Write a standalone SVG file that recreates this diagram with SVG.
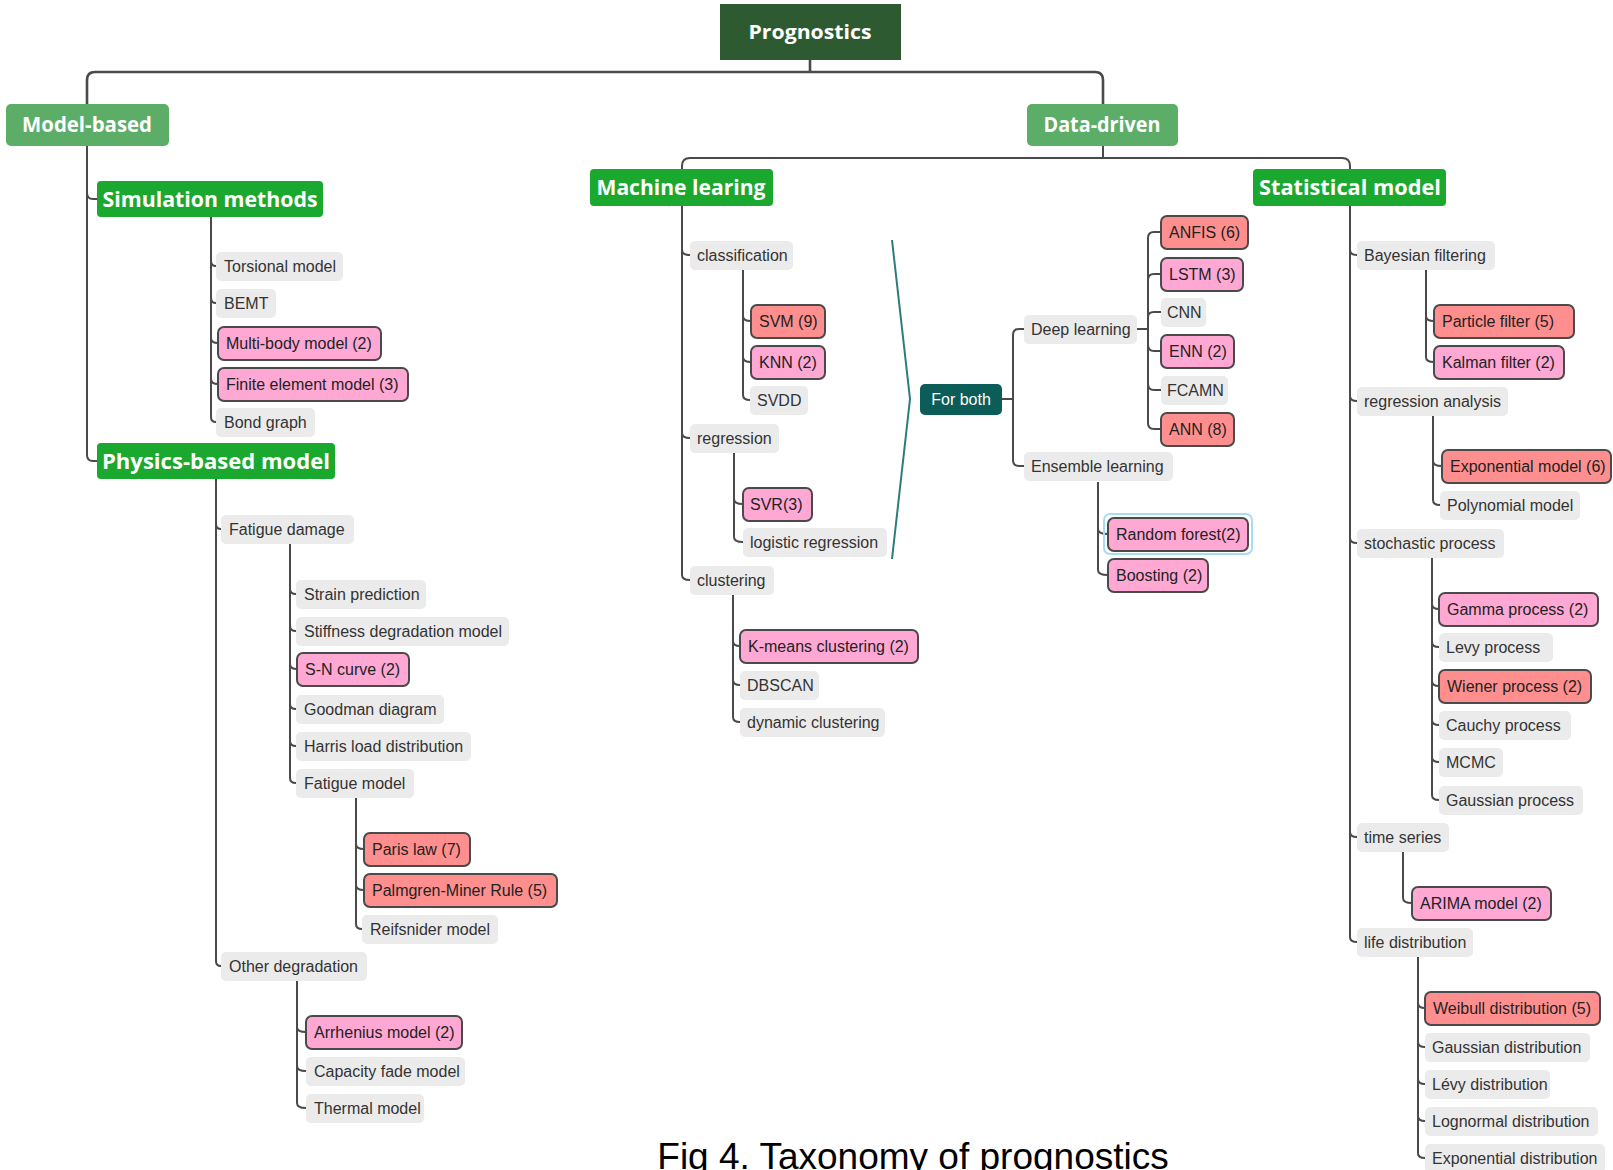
<svg xmlns="http://www.w3.org/2000/svg" width="1613" height="1170" viewBox="0 0 1613 1170">
<style>
.bg{fill:#ffffff}
.gray rect{fill:#ebebeb}
.pink rect{fill:#ffa8d4;stroke:#4a4a4a;stroke-width:2}
.red rect{fill:#ff8f8f;stroke:#4a4a4a;stroke-width:2}
.n text{font-family:"Liberation Sans",Arial,sans-serif;font-size:16px;fill:#333333}
.pink text,.red text{fill:#222222}
.hd text{font-family:"Open Sans","Noto Sans","Liberation Sans",sans-serif;font-weight:700;fill:#ffffff;text-anchor:middle}
.root rect{fill:#2e5a31}
.l1 rect{fill:#5cad67}
.l2 rect{fill:#1ba82e}
.fb rect{fill:#0c5c58}
.fb text{font-family:"Liberation Sans",Arial,sans-serif;font-size:16px;fill:#ffffff;text-anchor:middle}
#connectors path{fill:none;stroke:#4a4a4a;stroke-width:2}
#connectors .thick{stroke-width:2.6}
#connectors .teal{stroke:#2b7d7a;stroke-width:2}
.cap{font-family:"Liberation Sans",Arial,sans-serif;font-size:37px;fill:#000000}
</style>
<rect class="bg" x="0" y="0" width="1613" height="1170"/>

<g id="connectors">
  <path class="thick" d="M810 60 V72"/>
  <path class="thick" d="M87 104 V80 Q87 72 95 72 H1095 Q1103 72 1103 80 V104"/>
  <path d="M1103 146 V158"/>
  <path d="M682 169 V166 Q682 158 690 158 H1342 Q1350 158 1350 166 V169"/>
  <!-- Model-based -->
  <path d="M87 146 V193 Q87 199 93 199 H97"/>
  <path d="M87 146 V455 Q87 461 93 461 H97"/>
  <!-- Simulation methods -->
  <path d="M211 217 V261 Q211 266 216 266"/>
  <path d="M211 217 V298 Q211 303 216 303"/>
  <path d="M211 217 V338 Q211 343 218 343"/>
  <path d="M211 217 V379 Q211 384 218 384"/>
  <path d="M211 217 V417 Q211 422 216 422"/>
  <!-- Physics-based -->
  <path d="M216 479 V524 Q216 529 221 529"/>
  <path d="M216 479 V961 Q216 966 221 966"/>
  <!-- Fatigue damage -->
  <path d="M290 543 V589 Q290 594 296 594"/>
  <path d="M290 543 V626 Q290 631 296 631"/>
  <path d="M290 543 V664 Q290 669 297 669"/>
  <path d="M290 543 V704 Q290 709 296 709"/>
  <path d="M290 543 V741 Q290 746 296 746"/>
  <path d="M290 543 V778 Q290 783 296 783"/>
  <!-- Fatigue model -->
  <path d="M356 798 V844 Q356 849 364 849"/>
  <path d="M356 798 V885 Q356 890 364 890"/>
  <path d="M356 798 V924 Q356 929 362 929"/>
  <!-- Other degradation -->
  <path d="M297 980 V1027 Q297 1032 306 1032"/>
  <path d="M297 980 V1066 Q297 1071 306 1071"/>
  <path d="M297 980 V1103 Q297 1108 306 1108"/>
  <!-- Machine learing -->
  <path d="M682 206 V250 Q682 255 690 255"/>
  <path d="M682 206 V433 Q682 438 690 438"/>
  <path d="M682 206 V575 Q682 580 690 580"/>
  <!-- classification -->
  <path d="M743 270 V316 Q743 321 751 321"/>
  <path d="M743 270 V357 Q743 362 751 362"/>
  <path d="M743 270 V395 Q743 400 750 400"/>
  <!-- regression -->
  <path d="M734 453 V499 Q734 504 743 504"/>
  <path d="M734 453 V537 Q734 542 743 542"/>
  <!-- clustering -->
  <path d="M733 595 V641 Q733 646 740 646"/>
  <path d="M733 595 V680 Q733 685 740 685"/>
  <path d="M733 595 V717 Q733 722 740 722"/>
  <!-- For both bracket -->
  <path class="teal" d="M892 240 L910 399 L892 559"/>
  <!-- For both -->
  <path d="M1002 399 H1013"/>
  <path d="M1013 399 V335 Q1013 329 1019 329 H1024"/>
  <path d="M1013 399 V460 Q1013 466 1019 466 H1024"/>
  <!-- Deep learning -->
  <path d="M1137 329 H1148"/>
  <path d="M1148 329 V238 Q1148 232 1154 232 H1161"/>
  <path d="M1148 329 V280 Q1148 274 1154 274 H1161"/>
  <path d="M1148 329 V317 Q1148 312 1154 312 H1161"/>
  <path d="M1148 329 V345 Q1148 351 1154 351 H1161"/>
  <path d="M1148 329 V384 Q1148 390 1154 390 H1161"/>
  <path d="M1148 329 V423 Q1148 429 1154 429 H1161"/>
  <!-- Ensemble learning -->
  <path d="M1098 482 V529 Q1098 534 1108 534"/>
  <path d="M1098 482 V570 Q1098 575 1108 575"/>
  <!-- Statistical model -->
  <path d="M1350 206 V250 Q1350 255 1357 255"/>
  <path d="M1350 206 V396 Q1350 401 1357 401"/>
  <path d="M1350 206 V538 Q1350 543 1357 543"/>
  <path d="M1350 206 V832 Q1350 837 1357 837"/>
  <path d="M1350 206 V937 Q1350 942 1357 942"/>
  <!-- Bayesian filtering -->
  <path d="M1426 270 V316 Q1426 321 1434 321"/>
  <path d="M1426 270 V357 Q1426 362 1434 362"/>
  <!-- regression analysis -->
  <path d="M1433 416 V461 Q1433 466 1442 466"/>
  <path d="M1433 416 V500 Q1433 505 1440 505"/>
  <!-- stochastic process -->
  <path d="M1432 558 V604 Q1432 609 1439 609"/>
  <path d="M1432 558 V642 Q1432 647 1439 647"/>
  <path d="M1432 558 V681 Q1432 686 1439 686"/>
  <path d="M1432 558 V720 Q1432 725 1439 725"/>
  <path d="M1432 558 V757 Q1432 762 1439 762"/>
  <path d="M1432 558 V795 Q1432 800 1439 800"/>
  <!-- time series -->
  <path d="M1403 852 V898 Q1403 903 1412 903"/>
  <!-- life distribution -->
  <path d="M1418 957 V1003 Q1418 1008 1425 1008"/>
  <path d="M1418 957 V1042 Q1418 1047 1425 1047"/>
  <path d="M1418 957 V1079 Q1418 1084 1425 1084"/>
  <path d="M1418 957 V1116 Q1418 1121 1425 1121"/>
  <path d="M1418 957 V1153 Q1418 1158 1425 1158"/>
</g>

<!-- Header nodes -->
<g id="prognostics" class="hd root"><rect x="720" y="4" width="181" height="56"/><text x="810" y="39" font-size="20" textLength="123" lengthAdjust="spacingAndGlyphs">Prognostics</text></g>
<g id="model-based" class="hd l1"><rect x="6" y="104" width="163" height="42" rx="5"/><text x="87" y="132" font-size="21" textLength="130" lengthAdjust="spacingAndGlyphs">Model-based</text></g>
<g id="data-driven" class="hd l1"><rect x="1027" y="104" width="151" height="42" rx="5"/><text x="1102" y="132" font-size="21" textLength="117" lengthAdjust="spacingAndGlyphs">Data-driven</text></g>
<g id="simulation-methods" class="hd l2"><rect x="97" y="181" width="226" height="36" rx="4"/><text x="210" y="207" font-size="21" textLength="215" lengthAdjust="spacingAndGlyphs">Simulation methods</text></g>
<g id="physics-based-model" class="hd l2"><rect x="97" y="443" width="238" height="36" rx="4"/><text x="216" y="469" font-size="21" textLength="228" lengthAdjust="spacingAndGlyphs">Physics-based model</text></g>
<g id="machine-learing" class="hd l2"><rect x="590" y="169" width="183" height="37" rx="4"/><text x="681" y="195" font-size="21" textLength="169" lengthAdjust="spacingAndGlyphs">Machine learing</text></g>
<g id="statistical-model" class="hd l2"><rect x="1253" y="169" width="193" height="37" rx="4"/><text x="1350" y="195" font-size="21" textLength="182" lengthAdjust="spacingAndGlyphs">Statistical model</text></g>

<!-- Simulation methods children -->
<g id="torsional-model" class="n gray"><rect x="216" y="252" width="127" height="29" rx="5"/><text x="224" y="272">Torsional model</text></g>
<g id="bemt" class="n gray"><rect x="216" y="289" width="60" height="29" rx="5"/><text x="224" y="309">BEMT</text></g>
<g id="multi-body-model" class="n pink"><rect x="218" y="327" width="163" height="33" rx="6"/><text x="226" y="349">Multi-body model (2)</text></g>
<g id="finite-element-model" class="n pink"><rect x="218" y="368" width="190" height="33" rx="6"/><text x="226" y="390">Finite element model (3)</text></g>
<g id="bond-graph" class="n gray"><rect x="216" y="408" width="99" height="29" rx="5"/><text x="224" y="428">Bond graph</text></g>

<!-- Physics-based model children -->
<g id="fatigue-damage" class="n gray"><rect x="221" y="515" width="133" height="29" rx="5"/><text x="229" y="535">Fatigue damage</text></g>
<g id="strain-prediction" class="n gray"><rect x="296" y="580" width="130" height="29" rx="5"/><text x="304" y="600">Strain prediction</text></g>
<g id="stiffness-degradation-model" class="n gray"><rect x="296" y="617" width="213" height="29" rx="5"/><text x="304" y="637">Stiffness degradation model</text></g>
<g id="sn-curve" class="n pink"><rect x="297" y="653" width="112" height="33" rx="6"/><text x="305" y="675">S-N curve (2)</text></g>
<g id="goodman-diagram" class="n gray"><rect x="296" y="695" width="148" height="29" rx="5"/><text x="304" y="715">Goodman diagram</text></g>
<g id="harris-load-distribution" class="n gray"><rect x="296" y="732" width="175" height="29" rx="5"/><text x="304" y="752">Harris load distribution</text></g>
<g id="fatigue-model" class="n gray"><rect x="296" y="769" width="118" height="29" rx="5"/><text x="304" y="789">Fatigue model</text></g>
<g id="paris-law" class="n red"><rect x="364" y="833" width="106" height="33" rx="6"/><text x="372" y="855">Paris law (7)</text></g>
<g id="palmgren-miner" class="n red"><rect x="364" y="874" width="193" height="33" rx="6"/><text x="372" y="896">Palmgren-Miner Rule (5)</text></g>
<g id="reifsnider-model" class="n gray"><rect x="362" y="915" width="136" height="29" rx="5"/><text x="370" y="935">Reifsnider model</text></g>
<g id="other-degradation" class="n gray"><rect x="221" y="952" width="146" height="29" rx="5"/><text x="229" y="972">Other degradation</text></g>
<g id="arrhenius-model" class="n pink"><rect x="306" y="1016" width="156" height="33" rx="6"/><text x="314" y="1038">Arrhenius model (2)</text></g>
<g id="capacity-fade-model" class="n gray"><rect x="306" y="1057" width="159" height="29" rx="5"/><text x="314" y="1077">Capacity fade model</text></g>
<g id="thermal-model" class="n gray"><rect x="306" y="1094" width="118" height="29" rx="5"/><text x="314" y="1114">Thermal model</text></g>

<!-- Machine learing children -->
<g id="classification" class="n gray"><rect x="690" y="241" width="103" height="29" rx="5"/><text x="697" y="261">classification</text></g>
<g id="svm" class="n red"><rect x="751" y="305" width="74" height="33" rx="6"/><text x="759" y="327">SVM (9)</text></g>
<g id="knn" class="n pink"><rect x="751" y="346" width="74" height="33" rx="6"/><text x="759" y="368">KNN (2)</text></g>
<g id="svdd" class="n gray"><rect x="750" y="386" width="58" height="29" rx="5"/><text x="757" y="406">SVDD</text></g>
<g id="regression" class="n gray"><rect x="690" y="424" width="89" height="29" rx="5"/><text x="697" y="444">regression</text></g>
<g id="svr" class="n pink"><rect x="743" y="488" width="69" height="33" rx="6"/><text x="750" y="510">SVR(3)</text></g>
<g id="logistic-regression" class="n gray"><rect x="743" y="528" width="144" height="29" rx="5"/><text x="750" y="548">logistic regression</text></g>
<g id="clustering" class="n gray"><rect x="690" y="566" width="84" height="29" rx="5"/><text x="697" y="586">clustering</text></g>
<g id="k-means" class="n pink"><rect x="740" y="630" width="178" height="33" rx="6"/><text x="748" y="652">K-means clustering (2)</text></g>
<g id="dbscan" class="n gray"><rect x="740" y="671" width="79" height="29" rx="5"/><text x="747" y="691">DBSCAN</text></g>
<g id="dynamic-clustering" class="n gray"><rect x="740" y="708" width="145" height="29" rx="5"/><text x="747" y="728">dynamic clustering</text></g>

<!-- For both -->
<g id="for-both" class="fb"><rect x="920" y="384" width="82" height="31" rx="5"/><text x="961" y="405">For both</text></g>
<g id="deep-learning" class="n gray"><rect x="1024" y="315" width="113" height="29" rx="5"/><text x="1031" y="335">Deep learning</text></g>
<g id="anfis" class="n red"><rect x="1161" y="216" width="87" height="33" rx="6"/><text x="1169" y="238">ANFIS (6)</text></g>
<g id="lstm" class="n pink"><rect x="1161" y="258" width="82" height="33" rx="6"/><text x="1169" y="280">LSTM (3)</text></g>
<g id="cnn" class="n gray"><rect x="1161" y="298" width="45" height="29" rx="5"/><text x="1167" y="318">CNN</text></g>
<g id="enn" class="n pink"><rect x="1161" y="335" width="73" height="33" rx="6"/><text x="1169" y="357">ENN (2)</text></g>
<g id="fcamn" class="n gray"><rect x="1161" y="376" width="67" height="29" rx="5"/><text x="1167" y="396">FCAMN</text></g>
<g id="ann" class="n red"><rect x="1161" y="413" width="73" height="33" rx="6"/><text x="1169" y="435">ANN (8)</text></g>
<g id="ensemble-learning" class="n gray"><rect x="1024" y="452" width="149" height="29" rx="5"/><text x="1031" y="472">Ensemble learning</text></g>
<g id="random-forest" class="n pink"><rect x="1104" y="514" width="148" height="40" rx="6" style="fill:none;stroke:#a9dcf4;stroke-width:2"/><rect x="1108" y="518" width="140" height="33" rx="6"/><text x="1116" y="540">Random forest(2)</text></g>
<g id="boosting" class="n pink"><rect x="1108" y="559" width="100" height="33" rx="6"/><text x="1116" y="581">Boosting (2)</text></g>

<!-- Statistical model children -->
<g id="bayesian-filtering" class="n gray"><rect x="1357" y="241" width="138" height="29" rx="5"/><text x="1364" y="261">Bayesian filtering</text></g>
<g id="particle-filter" class="n red"><rect x="1434" y="305" width="140" height="33" rx="6"/><text x="1442" y="327">Particle filter (5)</text></g>
<g id="kalman-filter" class="n pink"><rect x="1434" y="346" width="130" height="33" rx="6"/><text x="1442" y="368">Kalman filter (2)</text></g>
<g id="regression-analysis" class="n gray"><rect x="1357" y="387" width="151" height="29" rx="5"/><text x="1364" y="407">regression analysis</text></g>
<g id="exponential-model" class="n red"><rect x="1442" y="450" width="169" height="33" rx="6"/><text x="1450" y="472">Exponential model (6)</text></g>
<g id="polynomial-model" class="n gray"><rect x="1440" y="491" width="140" height="29" rx="5"/><text x="1447" y="511">Polynomial model</text></g>
<g id="stochastic-process" class="n gray"><rect x="1357" y="529" width="147" height="29" rx="5"/><text x="1364" y="549">stochastic process</text></g>
<g id="gamma-process" class="n pink"><rect x="1439" y="593" width="159" height="33" rx="6"/><text x="1447" y="615">Gamma process (2)</text></g>
<g id="levy-process" class="n gray"><rect x="1439" y="633" width="114" height="29" rx="5"/><text x="1446" y="653">Levy process</text></g>
<g id="wiener-process" class="n red"><rect x="1439" y="670" width="152" height="33" rx="6"/><text x="1447" y="692">Wiener process (2)</text></g>
<g id="cauchy-process" class="n gray"><rect x="1439" y="711" width="132" height="29" rx="5"/><text x="1446" y="731">Cauchy process</text></g>
<g id="mcmc" class="n gray"><rect x="1439" y="748" width="64" height="29" rx="5"/><text x="1446" y="768">MCMC</text></g>
<g id="gaussian-process" class="n gray"><rect x="1439" y="786" width="144" height="29" rx="5"/><text x="1446" y="806">Gaussian process</text></g>
<g id="time-series" class="n gray"><rect x="1357" y="823" width="92" height="29" rx="5"/><text x="1364" y="843">time series</text></g>
<g id="arima-model" class="n pink"><rect x="1412" y="887" width="139" height="33" rx="6"/><text x="1420" y="909">ARIMA model (2)</text></g>
<g id="life-distribution" class="n gray"><rect x="1357" y="928" width="116" height="29" rx="5"/><text x="1364" y="948">life distribution</text></g>
<g id="weibull-distribution" class="n red"><rect x="1425" y="992" width="175" height="33" rx="6"/><text x="1433" y="1014">Weibull distribution (5)</text></g>
<g id="gaussian-distribution" class="n gray"><rect x="1425" y="1033" width="165" height="29" rx="5"/><text x="1432" y="1053">Gaussian distribution</text></g>
<g id="levy-distribution" class="n gray"><rect x="1425" y="1070" width="125" height="29" rx="5"/><text x="1432" y="1090">Lévy distribution</text></g>
<g id="lognormal-distribution" class="n gray"><rect x="1425" y="1107" width="173" height="29" rx="5"/><text x="1432" y="1127">Lognormal distribution</text></g>
<g id="exponential-distribution" class="n gray"><rect x="1425" y="1144" width="180" height="29" rx="5"/><text x="1432" y="1164">Exponential distribution</text></g>

<text class="cap" x="913" y="1169" text-anchor="middle">Fig 4. Taxonomy of prognostics</text>
</svg>
